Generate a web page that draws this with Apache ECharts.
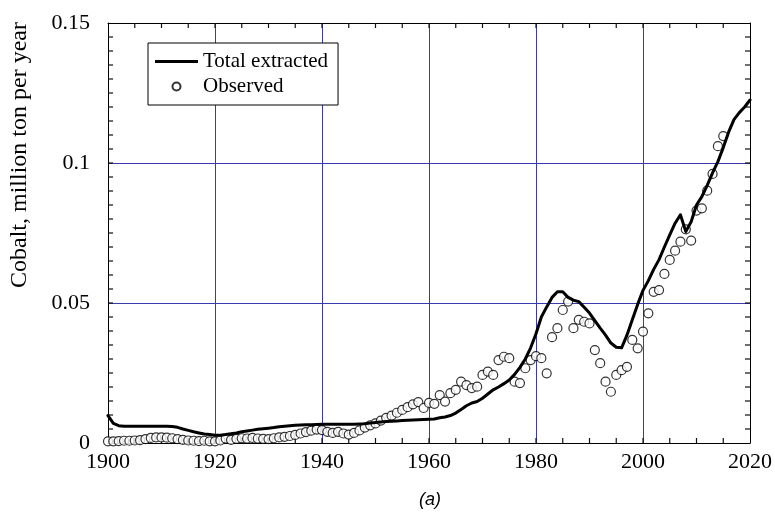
<!DOCTYPE html>
<html>
<head>
<meta charset="utf-8">
<script src="https://cdn.jsdelivr.net/npm/echarts@6/dist/echarts.min.js"></script>
<style>
  html, body { margin: 0; padding: 0; background: #fff; }
  #chart { width: 775px; height: 520px; }
</style>
</head>
<body>
<div id="chart"></div>
<script>
// Annual cobalt production, million tonnes per year
const firstYear = 1900;

// Modelled total extraction, one value per year 1900-2020
const extracted = [
  0.0098, 0.0070, 0.0062, 0.0060, 0.0060, 0.0060, 0.0060, 0.0060, 0.0060, 0.0060,
  0.0060, 0.0060, 0.0059, 0.0056, 0.0050, 0.0045, 0.0040, 0.0036, 0.0032, 0.0030,
  0.0028, 0.0028, 0.0030, 0.0033, 0.0036, 0.0040, 0.0043, 0.0046, 0.0049, 0.0051,
  0.0053, 0.0055, 0.0058, 0.0060, 0.0062, 0.0063, 0.0064, 0.0065, 0.0065, 0.0066,
  0.0067, 0.0067, 0.0067, 0.0067, 0.0067, 0.0067, 0.0067, 0.0068, 0.0069, 0.0071,
  0.0073, 0.0075, 0.0077, 0.0078, 0.0079, 0.0080, 0.0081, 0.0082, 0.0083, 0.0084,
  0.0085, 0.0086, 0.0090, 0.0093, 0.0098, 0.0107, 0.0120, 0.0133, 0.0143, 0.0148,
  0.0160, 0.0175, 0.0190, 0.0200, 0.0212, 0.0225, 0.0245, 0.0270, 0.0300, 0.0340,
  0.0390, 0.0450, 0.0486, 0.0520, 0.0540, 0.0540, 0.0520, 0.0510, 0.0505, 0.0485,
  0.0464, 0.0437, 0.0410, 0.0385, 0.0357, 0.0342, 0.0340, 0.0385, 0.0440, 0.0495,
  0.0545, 0.0580, 0.0620, 0.0655, 0.0700, 0.0743, 0.0785, 0.0815, 0.0755, 0.0790,
  0.0850, 0.0880, 0.0920, 0.0965, 0.1005, 0.1055, 0.1110, 0.1155, 0.1180, 0.1200,
  0.1225
];

// Observed production, one value per year 1900-2015
const observed = [
  0.0006, 0.0006, 0.0007, 0.0008, 0.0008, 0.0009, 0.0010, 0.0014, 0.0018, 0.0020,
  0.0020, 0.0019, 0.0017, 0.0014, 0.0011, 0.0009, 0.0008, 0.0007, 0.0008, 0.0006,
  0.0006, 0.0009, 0.0016, 0.0011, 0.0015, 0.0017, 0.0016, 0.0018, 0.0016, 0.0015,
  0.0014, 0.0017, 0.0020, 0.0022, 0.0025, 0.0029, 0.0034, 0.0039, 0.0044, 0.0048,
  0.0046, 0.0040, 0.0036, 0.0040, 0.0034, 0.0030, 0.0036, 0.0045, 0.0055, 0.0063,
  0.0070, 0.0080, 0.0090, 0.0098, 0.0108, 0.0118, 0.0128, 0.0138, 0.0146, 0.0125,
  0.0143, 0.0140, 0.0171, 0.0148, 0.0178, 0.0190, 0.0219, 0.0207, 0.0196, 0.0201,
  0.0243, 0.0255, 0.0243, 0.0296, 0.0308, 0.0303, 0.0219, 0.0214, 0.0267, 0.0296,
  0.0310, 0.0303, 0.0249, 0.0378, 0.0410, 0.0475, 0.0505, 0.0410, 0.0440, 0.0433,
  0.0427, 0.0332, 0.0285, 0.0219, 0.0183, 0.0243, 0.0260, 0.0272, 0.0368, 0.0338,
  0.0398, 0.0463, 0.0540, 0.0546, 0.0604, 0.0654, 0.0687, 0.0719, 0.0763, 0.0723,
  0.0830, 0.0838, 0.0901, 0.0961, 0.1060, 0.1096
];

// Axis ranges and tick marks (every 5 years, every 0.005)
const xRange = [1900, 2020];
const yRange = [0, 0.15];
const xTickYears = [
  1905, 1910, 1915, 1920, 1925, 1930, 1935, 1940, 1945, 1950, 1955, 1960,
  1965, 1970, 1975, 1980, 1985, 1990, 1995, 2000, 2005, 2010, 2015
];
const yTickValues = [
  0.005, 0.010, 0.015, 0.020, 0.025, 0.030, 0.035, 0.040, 0.045, 0.050,
  0.055, 0.060, 0.065, 0.070, 0.075, 0.080, 0.085, 0.090, 0.095, 0.100,
  0.105, 0.110, 0.115, 0.120, 0.125, 0.130, 0.135, 0.140, 0.145
];

const seriesNames = ['Total extracted', 'Observed'];
const yAxisTitle = 'Cobalt, million ton per year';
const panelLabel = '(a)';

const toPairs = (vals) => vals.map((v, i) => [firstYear + i, v]);

const serif = 'Liberation Serif, Times New Roman, serif';
const gridBlue = '#3a3ab0';
const tickLen = 5;
const tickStroke = { stroke: '#111', lineWidth: 1.2 };

function xAxisAt(position, withLabels) {
  return {
    type: 'value', min: xRange[0], max: xRange[1], interval: 20, position: position,
    axisLine: { show: true, onZero: false, lineStyle: { color: '#000', width: 1 } },
    axisTick: { show: false },
    minorTick: { show: false },
    axisLabel: withLabels
      ? { show: true, margin: 8, color: '#000', fontFamily: serif, fontSize: 22, formatter: (v) => String(v) }
      : { show: false },
    splitLine: withLabels ? { show: true, lineStyle: { color: gridBlue, width: 1 } } : { show: false }
  };
}
function yAxisAt(position, withLabels) {
  return {
    type: 'value', min: yRange[0], max: yRange[1], interval: 0.05, position: position,
    axisLine: { show: true, onZero: false, lineStyle: { color: '#000', width: 1 } },
    axisTick: { show: false },
    minorTick: { show: false },
    axisLabel: withLabels
      ? { show: true, margin: 18, color: '#000', fontFamily: serif, fontSize: 22 }
      : { show: false },
    splitLine: withLabels ? { show: true, lineStyle: { color: gridBlue, width: 1 } } : { show: false }
  };
}

// Inward tick marks on all four sides of the frame, placed through the axis scales
function renderXTicks(params, api) {
  const v = api.value(0);
  const b = api.coord([v, yRange[0]]);
  const t = api.coord([v, yRange[1]]);
  return {
    type: 'group',
    children: [
      { type: 'line', shape: { x1: b[0], y1: b[1], x2: b[0], y2: b[1] - tickLen }, style: tickStroke },
      { type: 'line', shape: { x1: t[0], y1: t[1], x2: t[0], y2: t[1] + tickLen }, style: tickStroke }
    ]
  };
}
function renderYTicks(params, api) {
  const v = api.value(1);
  const l = api.coord([xRange[0], v]);
  const r = api.coord([xRange[1], v]);
  return {
    type: 'group',
    children: [
      { type: 'line', shape: { x1: l[0], y1: l[1], x2: l[0] + tickLen, y2: l[1] }, style: tickStroke },
      { type: 'line', shape: { x1: r[0], y1: r[1], x2: r[0] - tickLen, y2: r[1] }, style: tickStroke }
    ]
  };
}

const chart = echarts.init(document.getElementById('chart'), null, { renderer: 'canvas' });

chart.setOption({
  animation: false,
  backgroundColor: '#fff',
  grid: { left: 108, right: 24, top: 23, bottom: 77 },
  xAxis: [xAxisAt('bottom', true), xAxisAt('top', false)],
  yAxis: [yAxisAt('left', true), yAxisAt('right', false)],
  legend: {
    data: [
      { name: seriesNames[0], icon: 'path://M0,0H43V3H0Z' },
      { name: seriesNames[1] }
    ],
    orient: 'vertical',
    left: 148, top: 43,
    padding: [8, 10, 8, 7],
    itemWidth: 43, itemHeight: 8, itemGap: 4,
    borderColor: '#000', borderWidth: 1, borderRadius: 0,
    backgroundColor: '#fff',
    textStyle: { color: '#000', fontFamily: serif, fontSize: 21, lineHeight: 20 },
    selectedMode: false,
    z: 6
  },
  graphic: [
    {
      type: 'text', x: 20, y: 155, rotation: Math.PI / 2,
      style: { text: yAxisTitle, fill: '#000', font: '24px ' + serif,
               align: 'center', verticalAlign: 'middle' }
    },
    {
      type: 'text', x: 430, y: 500,
      style: { text: panelLabel, fill: '#000', font: 'italic 18px Liberation Sans, Arial, sans-serif',
               align: 'center', verticalAlign: 'middle' }
    }
  ],
  series: [
    {
      name: 'xTickMarks', type: 'custom', xAxisIndex: 0, yAxisIndex: 0,
      data: xTickYears.map((y) => [y, yRange[0]]),
      renderItem: renderXTicks, silent: true, clip: false, z: 1
    },
    {
      name: 'yTickMarks', type: 'custom', xAxisIndex: 0, yAxisIndex: 0,
      data: yTickValues.map((v) => [xRange[0], v]),
      renderItem: renderYTicks, silent: true, clip: false, z: 1
    },
    {
      name: seriesNames[1], type: 'scatter', xAxisIndex: 0, yAxisIndex: 0,
      data: toPairs(observed),
      symbol: 'circle', symbolSize: 9,
      itemStyle: { color: '#fff', borderColor: '#000', borderWidth: 1.2 },
      z: 2
    },
    {
      name: seriesNames[0], type: 'line', xAxisIndex: 0, yAxisIndex: 0,
      data: toPairs(extracted),
      symbol: 'none', smooth: false,
      lineStyle: { color: '#000', width: 3, join: 'round', cap: 'round' },
      itemStyle: { color: '#000' },
      z: 3
    }
  ]
});
</script>
</body>
</html>
